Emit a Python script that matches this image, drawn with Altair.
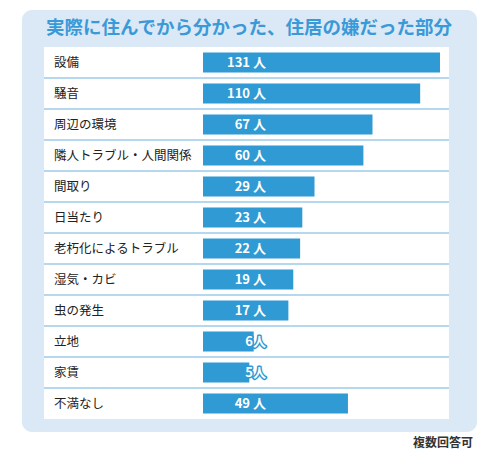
import altair as alt
import pandas as pd

categories = ["設備", "騒音", "周辺の環境", "隣人トラブル・人間関係", "間取り", "日当たり",
              "老朽化によるトラブル", "湿気・カビ", "虫の発生", "立地", "家賃", "不満なし"]
counts = [131, 110, 67, 60, 29, 23, 22, 19, 17, 6, 5, 49]
title_text = "実際に住んでから分かった、住居の嫌だった部分"
note_text = "複数回答可"

labels = [f"{v} 人" if v >= 10 else f"{v}人" for v in counts]
df = pd.DataFrame({
    "cat": categories,
    "n": counts,
    "label": labels,
    "idx": list(range(len(categories))),
})

W, H = 405, 372
FONT = "Noto Sans CJK JP"
BAR = "#2f9ad3"
PANEL = "#dbe8f6"
TITLE_C = "#3a9ad8"
LINE_C = "#9ccbe9"

yscale = alt.Scale(domain=categories, paddingInner=0, paddingOuter=0)
ybase = alt.Y("cat:N", scale=yscale, axis=None, sort=categories)

one = alt.Data(values=[{"k": 1}])

panel = alt.Chart(one).mark_rect(color=PANEL, cornerRadius=10).encode(
    x=alt.value(-22), x2=alt.value(433), y=alt.value(-37), y2=alt.value(385)
)
table = alt.Chart(one).mark_rect(color="white").encode(
    x=alt.value(0), x2=alt.value(W), y=alt.value(0), y2=alt.value(H)
)

rules = alt.Chart(df).transform_filter("datum.idx > 0").mark_rule(
    color=LINE_C, strokeWidth=1.5
).encode(
    y=alt.Y("cat:N", scale=yscale, axis=None, sort=categories, bandPosition=0),
    x=alt.value(0), x2=alt.value(W),
)

bars = alt.Chart(df).mark_bar(size=20, color=BAR).encode(
    y=ybase,
    x=alt.X("n:Q", scale=alt.Scale(type="sqrt", domain=[0, 131], range=[159, 396], nice=False),
            axis=None),
    x2=alt.X2Datum(0),
)

cat_text = alt.Chart(df).mark_text(
    align="left", baseline="middle", font=FONT, fontSize=12.5, color="#222"
).encode(y=ybase, x=alt.value(10), text="cat:N")

val_outline = alt.Chart(df).mark_text(
    align="right", baseline="middle", font=FONT, fontSize=13, fontWeight="bold",
    color=BAR, stroke=BAR, strokeWidth=3, strokeJoin="round"
).encode(y=ybase, x=alt.value(222), text="label:N")

val_text = alt.Chart(df).mark_text(
    align="right", baseline="middle", font=FONT, fontSize=13, fontWeight="bold",
    color="white"
).encode(y=ybase, x=alt.value(222), text="label:N")

title = alt.Chart(one).mark_text(
    align="center", baseline="middle", font=FONT, fontSize=18.5, fontWeight="bold",
    color=TITLE_C
).encode(x=alt.value(205), y=alt.value(-19), text=alt.value(title_text))

note = alt.Chart(one).mark_text(
    align="right", baseline="middle", font=FONT, fontSize=12, fontWeight="bold",
    color="#333"
).encode(x=alt.value(429), y=alt.value(396), text=alt.value(note_text))

chart = alt.layer(
    panel, table, rules, bars, cat_text, val_outline, val_text, title, note
).properties(
    width=W, height=H,
    autosize=alt.AutoSizeParams(type="none"),
    padding={"left": 36, "top": 39, "right": 40, "bottom": 34},
).configure_view(stroke=None).configure(background="white")

chart.save("out.html", embed_options={"renderer": "svg", "actions": False})
